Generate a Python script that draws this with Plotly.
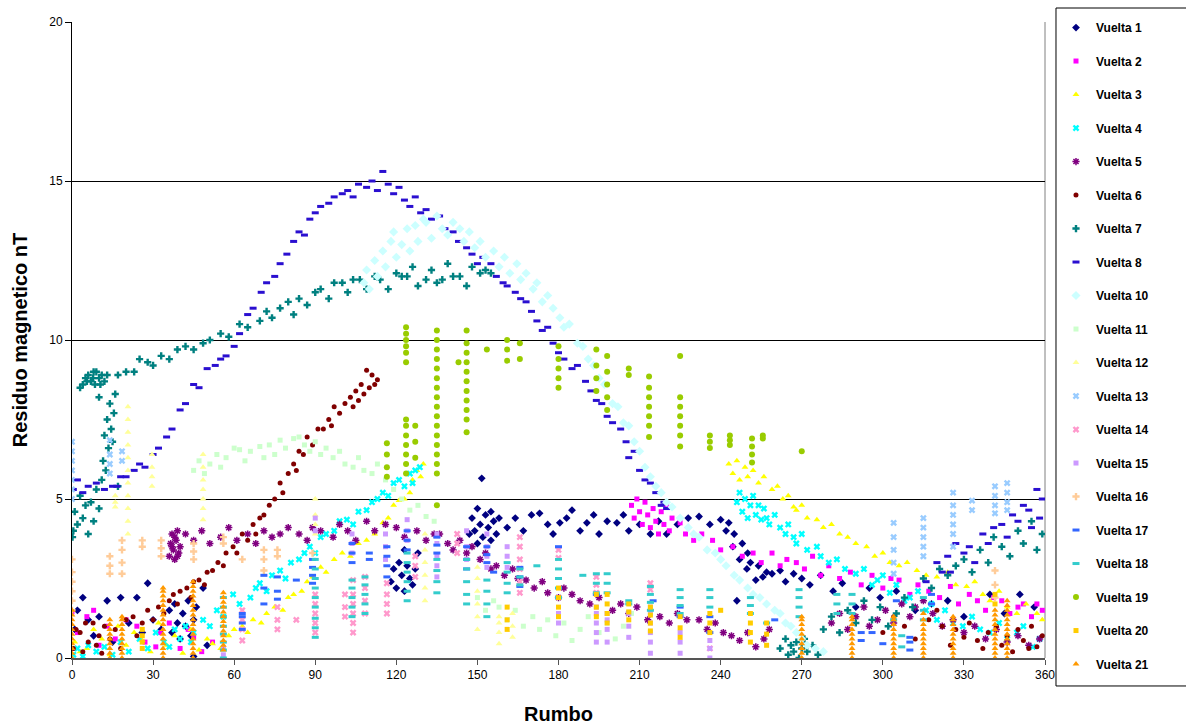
import plotly.graph_objects as go

# ---------------- data ----------------
# Scattered series: (rumbo, residuo) pairs
v1_pts = [(1,0.9),(2,1.5),(4,1.9),(6,1.2),(8,0.7),(10,1.3),(13,1.8),(15,0.5),(18,1.9),(21,1.1),(24,1.9),(26,0.8),(28,2.35),(30,1.2),(33,0.9),(36,1.5),(37,0.8),(38,1.7),(39,1.1),(40,0.6),(41,1.4),(42,1.0),(43,1.8),(44,0.7),(45,1.2),(45,0.05),(46,1.6),(48.5,2.2),(50,0.4),
          (118,2.4),(119,2.8),(120,2.2),(121,3.0),(122,2.6),(123,2.1),(124,2.9),(125,2.5),(126,2.3),(127,2.8),(128,3.3),(123,3.4),
          (147,3.9),(148,4.4),(149,4.0),(150,4.7),(150,3.6),(151,4.2),(151.6,5.65),(152,3.8),(153,4.5),(154,4.1),(155,4.6),(155,3.7),(156,4.3),(157,3.9),(158,4.4),
          (161,4.1),(164,4.4),(167,4.0),(170,4.5),(173,4.55),(176,4.2),(178,3.9),(180.5,4.25),(183,4.4),(185,4.65),(188,4.0),(190.5,4.25),(193,4.5),(195,3.9),(198,4.3),(201.6,4.25),(204,4.5),(206,4.0),(210,4.2),(214,3.9),(217,4.3),(220,3.9),(224,4.2),(228,4.4),(232,4.45),(236,4.2),(240,4.35),(242,4.0),(243,4.25),(244.5,3.5),(245,3.9),(246,1.8),(247,3.1),(248,3.6),(249.7,2.8),(250,3.3),(251,3.0),(253,2.45),(254,2.9),(255.6,2.55),(257,2.7),(259,2.65),(262,2.75),(264,2.4),(267,2.65),(270,2.5),(273,2.3),(277,2.6),(281.6,2.1),(285,2.35),(290,1.6),(295,2.2),(299,1.9),(305,2.1),(312,1.5),(318,1.7),(324,1.8),(330,1.3),(339.6,2.0),(345,1.4),(350.7,2.0),(356,1.6)]

v2_pts = [(0,1.45),(2,0.8),(5.5,1.3),(8,1.5),(10,0.4),(13,1.0),(16,0.6),(20,1.2),(24,1.0),(27,0.5),(31,0.35),(32.6,0.8),(36,1.1),(40,0.3),(43,0.9),(45,0.65),(48,0.2),(52,0.5),
          (207,4.8),(208,4.4),(209,5.0),(210,4.6),(211,4.2),(212,4.9),(213,4.5),(214,4.1),(215,4.7),(216,4.3),(217,3.9),(218,4.6),(219,4.2),(220,4.8),(221,4.0),(222,4.4),(225,4.25),(227,3.9),(230,3.7),(233,3.9),(237,3.7),(240,3.4),(244.5,3.5),(248,3.2),(252,3.3),(255,3.0),(259,3.3),(262,2.9),(264.5,3.1),(268,3.0),(271,2.8),(274,3.2),(277,2.6),(280,2.9),(284,2.5),(288,2.7),(292,2.3),(296,2.6),(300,2.2),(303,2.5),(306,2.45),(310,2.0),(313,2.3),(317,2.1),(321,1.9),(325,2.25),(328,1.7),(332,2.0),(335,1.8),(338,1.5),(341,1.9),(344,1.8),(347,1.4),(350,1.6),(352,1.7),(355,1.3),(357,1.7),(359,1.5)]

v3_pts = [(1,0.5),(3,0.2),(5.5,0.3),(8,0.9),(11,0.6),(14,0.1),(17,1.0),(20,0.4),(23,0.8),(26,0.55),(29,0.2),(32,1.1),(35,0.4),(38,0.7),(41,0.15),(44,0.9),(47,0.25),(50,0.6),(52,0.45),(55,0.3),
          (58,0.7),(60,0.9),(63,1.0),(65,0.8),(67,1.2),(70,1.1),(72,1.4),(75,1.6),(78,1.5),(80,1.9),(82,2.0),(85,2.1),(87,2.4),(89,2.55),(92,2.85),(94,2.7),(97,3.1),(100,3.3),(103,3.2),(106,3.6),(109,3.7),(112,3.9),(115,4.25),(117,4.4),(119,4.8),(121,4.95),(123,5.0),(125,5.2),(126,5.6),(127.6,5.9),(129,5.7),(130,6.1),
          (243,6.1),(244.5,5.8),(246,6.2),(247,5.6),(249,6.0),(250,5.7),(252,5.9),(254,5.5),(256,5.7),(259,5.3),(261,5.4),(263,5.0),(265,5.1),(267,4.75),(268,4.65),(270,4.8),(272,4.4),(275.6,4.35),(278,4.1),(281,4.2),(284,3.9),(287,3.8),(290,3.6),(294,3.5),(297,3.2),(300,3.3),(302.6,3.0),(306,2.9),(309,3.0),(312.6,2.75),(316,2.6),(320,2.55),(324,2.7),(327,2.3),(331,2.25),(334,2.4),(337,2.0),(339.6,1.8),(343,2.1),(346,1.6),(349.6,1.4),(353,1.7),(357,1.4),(359,1.2)]

v4_pts = [(0.5,0.1),(2,0.3),(4,0.05),(6,0.4),(9,0.2),(12,0.35),(15,0.1),(18,0.5),(21,0.2),(25,0.6),(28,0.3),(31,0.8),(34,0.5),(36,0.35),(38,0.9),(40,0.6),(42,1.0),(44,0.5),(45,0.8),
          (48.5,1.2),(51,1.0),(53.6,1.5),(56,1.3),(59.6,2.0),(62,1.7),(66,1.9),(68,2.2),(69.5,2.35),(72,2.1),(74,2.6),(77,2.75),(79,2.5),(81,3.0),(84,3.1),(86,3.3),(88,3.5),(90,3.3),(92,3.8),(94,3.9),(97,4.0),(99,4.3),(101.7,4.35),(104,4.2),(106,4.6),(109,4.65),(111,4.9),(113,5.0),(115,5.2),(117,5.1),(119,5.5),(121,5.6),(123,5.4),(125,5.8),(126,5.5),(127,5.9),(128.7,6.0),
          (246,4.9),(247,5.2),(248,4.6),(249,5.0),(250,4.4),(251,4.8),(252,5.1),(253,4.5),(254,4.8),(255,4.35),(256,4.7),(257,4.4),(258,4.2),(260,4.5),(262,4.1),(264,3.9),(265,4.2),(267,3.8),(268,3.6),(270,3.9),(272,3.4),(275.6,3.5),(277,3.2),(280,3.0),(283,3.1),(286,2.8),(290,2.65),(293,2.8),(296,2.3),(298,2.45),(300,2.6),(302.6,2.05),(305,2.3),(308,1.8),(310,1.9),(313,2.1),(316,1.5),(318,1.7),(320,1.2),(323,1.5),(326,1.1),(329.6,1.0),(333,1.3),(336,0.9),(339.6,0.8),(343,1.1),(346,0.6),(349.6,0.8),(352,1.0),(355.5,0.35),(358,0.6)]

v5_pts = [(36,3.2),(36.5,3.6),(37,3.9),(37.5,3.4),(38,3.1),(38.5,3.7),(39,4.0),(39.5,3.3),(40,3.5),(38,3.8),(37,3.5),(39,3.2),
          (42,3.9),(45,3.7),(48,4.0),(51,3.6),(55,3.8),(58,4.1),(61,3.7),(65,3.9),(68,3.6),(71,4.0),(74,3.8),(77,3.9),(80,4.1),(84,3.9),(87,3.7),(89,4.1),(92,4.0),(96.6,3.8),(99,4.2),(102,4.0),(105,3.7),(109,4.3),(112,4.0),(116,4.2),(120,4.1),(123,3.8),(127.6,4.0),(131,3.7),(134,3.9),(136,3.9),(139,3.6),(141,3.4),(143.5,3.7),(146,3.3),(148,3.5),(151,3.1),(153,3.3),(155,2.8),(157,2.9),(160,2.6),(163,2.8),(165,2.5),(168,2.45),(171,2.2),(174,2.4),(176,2.05),(180,1.9),(182,2.2),(185,2.0),(188,1.8),(191.6,1.7),(195,1.9),(200,1.5),(203,1.7),(206,1.4),(209,1.6),(213,1.2),(217.5,1.3),(221,1.1),(224,1.4),(227.5,1.2),(232,1.2),(235,0.9),(238,1.1),(241,0.8),(244,0.7),(247,0.55),(250,0.8),(253,0.35),(256,0.6),(258,0.9),
          (281,1.1),(284,1.4),(287,0.9),(290,1.3),(293,1.6),(295,1.0),(298,1.2),(301,1.5),(304,1.1),(307,1.7),(310,1.3),(312,1.6),(315,1.8),(318.5,1.4),(322,1.0),(326,1.2),(330,0.8),(334,1.0),(338,0.6),(342,0.9),(346,0.5),(350,0.7),(354,0.4),(358,0.6)]

v6_pts = [(0.5,0.3),(1.5,0.9),(3,0.8),(4,0.2),(5,1.1),(6,0.5),(7.8,1.1),(9,0.4),(10,0.7),(11,0.15),(12,1.0),(14,0.6),(16,0.9),(18,0.3),(20,1.2),(22.6,1.3),(24,0.7),(26,1.1),(28,1.5),(30,1.2),(32,1.6),(34,1.4),(36,1.8),(37.5,2.0),(39,1.7),(40,2.1),(42.5,2.2),(44,1.9),(45,2.4),(47,2.45),(49,2.3),(50,2.7),(52,2.75),(54,3.0),(56,2.9),(57,3.3),(59.6,3.5),(61,3.3),(63,3.9),(65,3.7),(67,4.2),(68,3.9),(69.5,4.4),(71,4.5),(73,4.8),(75,5.0),(77,5.5),(78,5.2),(80,5.8),(82,6.1),(83,5.9),(84,6.5),(85.6,6.4),(87,6.95),(89,6.7),(91,7.2),(93,7.2),(95,7.5),(96,7.3),(97,7.9),(99,7.7),(101,8.0),(103,8.2),(104,7.9),(105,8.4),(106,8.1),(107,8.6),(108,8.3),(109,9.05),(110,8.5),(111,8.9),(112,8.6),(113,8.75),
          (300,0.8),(304,1.3),(308,1.0),(312,0.6),(317,1.2),(320,1.5),(322,1.0),(325,0.4),(327,0.9),(330,0.65),(332,1.1),(335,0.55),(337,0.3),(339,0.8),(342,1.0),(344,0.4),(346,0.7),(348,0.2),(350,0.9),(352,0.55),(354,0.3),(355,1.0),(357,0.35),(359,0.7)]

v7_pts = [(0.2,3.8),(0.5,4.0),(1,4.6),(2,4.2),(3,5.1),(4,4.4),(5,4.8),(6,3.9),(7,4.9),(8,4.3),(9,5.3),(10,4.7),(11,5.6),(11.5,6.2),(12,7.0),(12.5,5.9),(13,7.5),(13.5,6.6),(14,8.0),(14.5,7.2),(15,6.8),(15.5,7.7),(16,8.3),(17,5.4),(10,8.2),
          (4,8.6),(5,8.8),(6,8.9),(7,8.7),(7.8,8.8),(8.5,8.6),(9,9.0),(10,8.8),(11,8.9),(12,8.7),(13,8.9),(3,8.5),(5.5,8.7),(8,9.0),(10.5,8.6),
          (17,8.9),(20,9.0),(23,9.0),(25,9.4),(28,9.3),(30,9.2),(33,9.5),(36,9.4),(39,9.7),(42,9.8),(45,9.7),(48.5,9.9),(51,10.0),(55,10.2),(58,10.1),(62,10.5),(65,10.4),(69.5,10.6),(72,10.9),(74,10.7),(77,11.0),(80,11.2),(82,10.8),(84,11.3),(87,11.1),(90,11.5),(92,11.6),(95,11.3),(97,11.8),(100,11.8),(102,11.5),(104,11.9),(106.5,11.9),(109,11.6),(112,12.0),(114,11.9),(117,11.6),(120,12.1),(122,12.0),(124,12.0),(126,12.3),(128,11.7),(131,11.9),(133,12.2),(135,11.8),(137,11.9),(139,12.4),(141,12.0),(143.5,12.0),(146,11.7),(148,12.3),(151,12.1),(153,12.2),(155,12.1),
          (262,0.3),(264,0.6),(265,0.1),(266,0.4),(267,0.2),(268,0.5),(269,0.0),(270,0.3),(271,0.6),(272,0.2),(274,0.4),(276,0.1),(278,0.9),(281,1.3),(284,0.8),(287,1.5),(290,1.1),(293,1.8),(296,1.2),(299,1.6),(302,1.0),(305,1.4),(308,1.9),(311,1.6),(315,2.5),(318,2.2),(321,2.8),(324,2.6),(327,2.9),(330,3.1),(333,2.7),(336,3.4),(339,3.0),(341,3.8),(344,3.5),(347,3.2),(350,4.0),(352,3.6),(355,4.3),(357,3.4),(359,3.9)]

v8_pts = [(0.5,5.3),(2,5.6),(4,5.2),(6,5.4),(9,5.5),(12,5.3),(15,5.4),(16.6,5.4),(18,5.7),(20,5.7),(23,5.9),(25,6.1),(27,6.0),(30,6.4),(32,6.6),(35,6.95),(37,7.2),(40,7.8),(42,8.0),(45,8.6),(47,8.5),(50,9.1),(53,9.2),(55,9.4),(57,9.5),(60,9.8),(62,10.2),(65,10.8),(67,11.0),(70,11.5),(72,11.8),(75,12.0),(77,12.4),(79.5,12.7),(82,13.1),(84,13.4),(86,13.3),(88,13.8),(90,14.0),(92,14.2),(95,14.3),(97,14.5),(100,14.6),(102,14.7),(104,14.5),(106,14.9),(109,14.8),(111,15.0),(113,14.7),(115,15.3),(117,14.9),(119,14.6),(121,14.8),(123,14.4),(125,14.2),(127,14.5),(129,14.0),(131,14.1),(133,13.8),(136,13.9),(138,13.5),(141,13.4),(143,13.1),(146,12.9),(148,12.7),(150,12.4),(152,12.6),(155,12.4),(157,12.0),(159.5,11.8),(161,11.7),(164,11.5),(166,11.3),(168,11.2),(170,10.9),(172,10.6),(174,10.3),(176,10.4),(178,9.9),(180,9.6),(182,9.4),(185,9.1),(187,9.2),(190,8.7),(192,8.4),(194,8.1),(196,8.0),(198,7.6),(200,7.4),(203,7.2),(205,6.8),(206,6.3),(208,6.5),(210,5.9),(212,5.6),(214,5.5),(216,5.2),(218,4.8),(219,4.9),(220,4.7),
          (316,2.4),(320,3.0),(322,2.7),(324,3.2),(325,2.7),(327,3.6),(330,3.3),(332,3.5),(334,3.0),(337,3.9),(339,3.6),(341,4.1),(344,4.2),(346,3.8),(348,4.5),(350,4.3),(352,4.8),(354,4.65),(355,4.1),(357,5.3),(358,4.4),(359,5.0)]

v10_pts = [(108,11.8),(109,12.2),(110,11.6),(112,12.5),(113,12.0),(115,12.8),(116,12.3),(118,13.1),(119,13.4),(120,12.6),(122,13.0),(124,13.5),(125,12.8),(127,13.6),(128,13.1),(130,13.8),(131,13.7),(133,13.2),(135,13.9),(137,13.5),(139,13.3),(141,13.7),(143.5,13.5),(145,13.1),(147,13.4),(149,12.9),(151,13.1),(153,12.6),(156,12.8),(158,12.3),(160,12.6),(162,12.1),(164.6,12.4),(166,11.9),(168,12.1),(170.6,11.6),(172,11.8),(174,11.2),(176,11.4),(178,11.0),(180.5,10.7),(182,10.4),(184,10.5),(187,9.9),(189,9.8),(191,9.4),(193,9.2),(195,8.8),(197,8.6),(200,8.0),(202,7.9),(204,7.4),(206,7.3),(208,6.8),(210,6.5),(212,6.0),(214,5.7),(216,5.4),(218,5.2),(220,4.9),(222,4.75),(225,4.4),(228,4.1),(230,3.9),(232,3.8),(235,3.4),(238,3.3),(240,3.1),(242,2.9),(245,2.6),(247,2.45),(250,2.2),(252,2.0),(254.5,1.9),(257,1.7),(260,1.5),(262,1.4),(264,1.1),(266,1.0),(268,0.8),(270,0.6),(272,0.4),(275,0.3),(278,0.2)]

v11_pts = [(45,5.9),(47,6.2),(49,5.8),(51,6.1),(53.6,6.4),(55,6.0),(57,6.3),(60,6.6),(62,6.55),(64,6.2),(66,6.5),(69.5,6.65),(71,6.3),(73,6.7),(75,6.4),(77,6.85),(79,6.6),(82,6.9),(84,6.95),(86,6.7),(88,6.5),(90,6.8),(92,6.4),(94,6.6),(96.6,6.3),(99,6.5),(101,6.1),(104,6.0),(106,6.3),(108,5.9),(111,5.8),(113,6.1),(116,5.6),(119,5.3),(122,5.0),(125,4.65),(128,4.8),(131,4.45),(134,4.3),
           (150,1.9),(153,1.5),(156,1.8),(158,1.6),(161,1.2),(164,1.5),(167,1.0),(170.5,1.3),(173,0.9),(176,1.2),(179,0.7),(182,1.1),(185,0.55),(188,0.9),(191,1.3),(195,0.8),(198,1.1),(201,0.6),(204,1.0),(207,1.4)]

# Column-type series: rumbo -> list of residuo values read in that column
v12_cols = [(16,[4.75,4.9,5.1]),(20.7,[3.9,4.3,4.7,5.1,5.5,5.9,6.3,6.7,7.1,7.5,7.9]),(29.6,[5.4,5.7,6.0,6.4]),(48.5,[4.35,4.7,5.0,5.3,5.6,6.0,6.4]),
            (90,[3.9,4.2,4.5,5.0]),(130.6,[1.8,2.2,2.6,3.0,3.4,3.9]),(150,[0.9,1.3,1.7,2.1,2.5,2.85]),(158,[0.45,0.8,1.1,1.3]),(163,[0.65,1.0,1.4])]
v13_cols = [(0,[5.0,5.3,5.6,5.9,6.2,6.5,6.8]),(14,[5.8,6.1,6.4,6.85]),(18.5,[6.2,6.5]),(304,[2.65,3.0,3.4,3.8,4.25]),(315,[3.2,3.5,3.8,4.1,4.4]),
            (326,[3.5,3.9,4.2,4.5,4.8,5.2]),(333,[4.65,4.95]),(341.5,[4.55,4.8,5.1,5.4]),(346,[4.65,4.9,5.2,5.5])]
v14_cols = [(63,[0.55,0.9,1.2,1.5]),(76,[0.9,1.2,1.6]),(83,[1.2]),(90,[0.8,1.1,1.4,1.7,2.0]),(101,[1.3,1.6,2.0]),(104,[0.8,1.1,1.4,1.7,2.0,2.45]),
            (108.4,[1.4,1.8,2.2,2.55]),(116.5,[1.4,1.7,2.0,2.35]),(127,[2.55,2.9,3.2]),(142.5,[3.3,3.6,3.9]),(165.7,[2.05,2.4,2.8,3.1,3.5,3.8]),
            (180,[3.15,3.4]),(194,[2.05,2.3,2.55]),(214,[2.15,2.35]),(236,[0.3])]
v15_cols = [(56,[0.1,0.3]),(90,[4.0,4.4]),(103.6,[3.3,3.6,3.9]),(116,[3.1,3.5,3.9]),(124,[3.7,4.0,4.35]),(135,[2.55,2.9,3.2,3.6,3.9]),(146,[3.1,3.5,4.0]),
            (153.5,[2.85,3.2,3.5,3.9]),(161,[2.85,3.2,3.5]),(180,[1.1,1.4]),(194,[0.5,0.8,1.1,1.4,1.6]),(198,[0.5,0.9,1.2,1.4]),(206,[0.65,1.0,1.4]),
            (214,[0.15,0.5,0.8,1.1,1.4,1.6]),(225,[0.15,0.5,0.8]),(236,[0.0,0.3,0.55])]
v16_cols = [(0,[1.5,1.8,2.1,2.4,2.7,3.1]),(14,[2.65,2.9,3.2]),(18.5,[2.65,3.0,3.4,3.7]),(26,[3.5,3.7]),(33,[3.2,3.45,3.7]),(45,[3.1,3.35,3.6]),
            (56,[3.6,3.8]),(63,[3.1]),(71,[2.75,3.1,3.4]),(76,[3.2,3.4]),(89,[3.3]),(341.5,[1.9,2.3,2.75])]
v17_cols = [(63,[0.9,1.1,1.3,1.4]),(71,[1.7,2.2,2.6]),(76,[1.85,2.1,2.55]),(83,[2.45]),(89,[2.35,2.6,2.85,3.1]),(103.6,[3.0,3.3,3.6]),(110,[3.1,3.3]),
            (116.5,[2.55,2.9,3.2,3.5]),(124,[3.4,3.7,4.0]),(135,[3.3,3.55,3.8]),(146,[2.8,3.1,3.5]),(153.5,[3.0,3.25,3.5]),(156,[2.7]),(165.7,[2.25,2.55,2.85]),
            (180,[3.5]),(194,[2.0]),(215,[1.8]),(225,[1.3,1.6]),(236,[0.8,1.3]),(260,[1.2]),(292,[0.55,0.8]),(296,[0.8]),(300,[0.45]),(305,[1.8]),
            (310,[0.25,0.5,0.65]),(318,[1.7,2.0])]
v18_cols = [(56,[0.0,0.25,0.5,0.75,1.0,1.3,1.6,1.9]),(90,[0.65,0.95,1.25,1.6,1.9,2.2,2.5,2.8,3.1]),(103.6,[1.3,1.6,1.9,2.2,2.45]),(108.4,[1.4,1.7,2.0,2.3,2.55]),
            (124,[1.8,2.1,2.4,2.7,3.0,3.3]),(135,[2.05,2.4,2.75,3.1]),(146,[1.7,2.0,2.4,2.8,3.1]),(153.5,[1.3,1.7,2.1,2.45]),(161,[2.05,2.35,2.7,3.0]),
            (165.7,[2.3,2.55,2.8]),(172,[2.9]),(180,[1.9,2.2,2.5,2.8,3.1]),(189,[2.6]),(194,[2.05,2.35,2.65]),(198,[2.05,2.35,2.65]),(206,[1.7,1.8]),
            (214,[1.5,1.75,2.0,2.25]),(225,[1.4,1.65,1.9,2.15]),(236,[1.6,1.9,2.15]),(251,[1.4,1.65,1.9]),(257,[1.1]),(269,[1.3,1.6,1.9,2.15]),
            (283,[1.4,1.7,2.0]),(288.6,[1.4,1.7,2.0]),(304,[1.2]),(307,[0.35,0.7]),(315,[1.2,1.5,1.9])]
v19_cols = [(116.5,[5.7,6.0,6.4,6.75]),(123.6,[5.8,6.1,6.4,6.7,7.0,7.3,7.5,9.3,9.6,9.8,10.0,10.2,10.4]),(127,[6.3,6.8,7.3]),
            (135,[4.8,5.8,6.1,6.4,6.7,7.0,7.3,7.6,7.9,8.2,8.5,8.8,9.1,9.4,9.7,10.0,10.3]),(143,[9.3]),
            (146,[7.1,7.5,7.8,8.1,8.4,8.7,9.0,9.3,9.6,9.9,10.3]),(153.5,[9.7]),(161,[9.35,9.7,10.0]),(165.7,[9.4,9.9]),
            (180,[8.5,8.8,9.1,9.4,9.8]),(194,[8.4,8.8,9.2,9.7]),(198,[7.8,8.2,8.6,9.0,9.5]),(206,[8.9,9.1]),
            (213.5,[6.95,7.3,7.6,7.9,8.2,8.5,8.85]),(225,[6.65,7.0,7.3,7.6,7.9,8.2,9.5]),(236,[6.6,6.8,7.0]),(243.4,[6.7,6.85,7.0]),
            (251.6,[6.15,6.4,6.65,6.9]),(255.6,[6.9,7.0]),(270,[6.5])]
v20_cols = [(26,[0.3,0.5,0.7,0.9]),(161,[0.9,1.2,1.6]),(180,[1.3,1.6,1.9,2.2]),(194,[1.3,1.6,2.0]),(198,[1.1,1.4,1.7,2.0]),(206,[1.2,1.45,1.7]),
            (214,[0.85,1.1,1.35,1.6]),(225,[0.65,0.95,1.3]),(236,[0.8,1.1,1.4]),(240,[1.5]),(251,[0.5,0.8,1.1,1.4]),(257,[0.4,0.75,1.1]),(341.5,[1.7,2.0])]
v21_cols = [(0,[0.0,0.15,0.3,0.45,0.6,0.75,0.9,1.05,1.2,1.35,1.5]),(14,[0.0,0.15,0.3,0.45,0.6,0.75,0.9,1.05,1.2]),
            (18.5,[0.0,0.15,0.3,0.45,0.6,0.75,0.9,1.05,1.2,1.3]),
            (33.7,[0.0,0.15,0.3,0.45,0.6,0.75,0.9,1.05,1.2,1.35,1.5,1.65,1.8,1.95,2.1,2.2]),
            (44.8,[0.0,0.15,0.3,0.45,0.6,0.75,0.9,1.05,1.2,1.35,1.5,1.65,1.8,1.95,2.1,2.25,2.4]),
            (56,[0.25,0.4,0.55,0.7,0.85,1.0,1.15,1.3,1.45,1.6,1.75,1.9,2.05]),
            (270,[0.0,0.15,0.3,0.45,0.6,0.75,0.9,1.05,1.2,1.3]),(288.6,[0.0,0.15,0.3,0.45,0.6,0.75,0.9,1.05,1.2,1.3]),
            (304,[0.0,0.15,0.3,0.45,0.6,0.75,0.9,1.05,1.2,1.3]),(315,[0.0,0.15,0.3,0.45,0.6,0.75,0.9,1.05,1.2,1.4]),
            (326,[0.0,0.15,0.3,0.45,0.6,0.75,0.9,1.05,1.2,1.3]),(341.5,[0.0,0.15,0.3,0.45,0.6,0.75,0.9,1.05,1.2,1.35,1.5]),
            (346,[0.0,0.15,0.3,0.45,0.6,0.75,0.9,1.05,1.2,1.35,1.5,1.65,1.8])]

series_names = ["Vuelta 1","Vuelta 2","Vuelta 3","Vuelta 4","Vuelta 5","Vuelta 6","Vuelta 7","Vuelta 8","Vuelta 10","Vuelta 11",
                "Vuelta 12","Vuelta 13","Vuelta 14","Vuelta 15","Vuelta 16","Vuelta 17","Vuelta 18","Vuelta 19","Vuelta 20","Vuelta 21"]
x_ticks = [0,30,60,90,120,150,180,210,240,270,300,330,360]
y_ticks = [0,5,10,15,20]

# ---------------- styles ----------------
colors = ["#000080","#FF00FF","#FFFF00","#00FFFF","#800080","#800000","#008080","#2A0FD0","#CCFFFF","#CCFFCC",
          "#FFFF99","#99CCFF","#FF99CC","#CC99FF","#FFCC99","#3366FF","#33CCCC","#99CC00","#FFCC00","#FF9900"]
symbols = ["diamond","square","triangle-up","x","asterisk-open","circle","cross","line-ew-open","diamond","square",
           "triangle-up","x","x","square","cross","line-ew-open","line-ew-open","circle","square","triangle-up"]
sizes = [6,5,6,6,6,5,6,5,7,5,6,6,6,5,6,5,5,6,5,6]

def from_pts(pts):
    return [p[0] for p in pts], [p[1] for p in pts]

def from_cols(cols):
    xs, ys = [], []
    for cx, vals in cols:
        for v in vals:
            xs.append(cx)
            ys.append(v)
    return xs, ys

data = [from_pts(v1_pts), from_pts(v2_pts), from_pts(v3_pts), from_pts(v4_pts), from_pts(v5_pts), from_pts(v6_pts),
        from_pts(v7_pts), from_pts(v8_pts), from_pts(v10_pts), from_pts(v11_pts),
        from_cols(v12_cols), from_cols(v13_cols), from_cols(v14_cols), from_cols(v15_cols), from_cols(v16_cols),
        from_cols(v17_cols), from_cols(v18_cols), from_cols(v19_cols), from_cols(v20_cols), from_cols(v21_cols)]

fig = go.Figure()
for i, (name, (xs, ys)) in enumerate(zip(series_names, data)):
    sym = symbols[i]
    marker = dict(color=colors[i], symbol=sym, size=sizes[i])
    if sym.endswith("-open"):
        marker["line"] = dict(color=colors[i], width=3 if sym.startswith("line") else 1.5)
    else:
        marker["line"] = dict(width=0)
    fig.add_trace(go.Scatter(x=xs, y=ys, mode="markers", name=name, marker=marker,
                             legendgroup=name, cliponaxis=True))

fig.update_layout(
    width=1186, height=726,
    margin=dict(l=72, r=141, t=22, b=68, autoexpand=False),
    paper_bgcolor="white", plot_bgcolor="white",
    font=dict(family="Arial, Liberation Sans, sans-serif", color="black", size=12),
    showlegend=True,
    legend=dict(x=1.0113, xanchor="left", y=1.0141, yanchor="top",
                bordercolor="black", borderwidth=0, bgcolor="rgba(0,0,0,0)",
                font=dict(family="Arial, Liberation Sans, sans-serif", size=12, color="black", weight="bold"),
                tracegroupgap=14.5, maxheight=700),
    xaxis=dict(range=[0, 360], tickvals=x_ticks, ticks="outside", ticklen=5, tickcolor="#555",
               showline=True, linecolor="#555", linewidth=2, showgrid=False, zeroline=False,
               tickfont=dict(size=12),
               title=dict(text="Rumbo", font=dict(size=20, weight="bold"), standoff=26)),
    yaxis=dict(range=[0, 20], tickvals=y_ticks, ticks="outside", ticklen=6, tickcolor="black",
               showline=True, linecolor="black", linewidth=1, showgrid=True, gridcolor="black",
               gridwidth=1, zeroline=False, tickfont=dict(size=12),
               title=dict(text="Residuo magnetico nT", font=dict(size=20, weight="bold"), standoff=16)),
    shapes=[dict(type="line", xref="paper", yref="paper", x0=1, x1=1, y0=0, y1=1,
                 line=dict(color="#808080", width=1), layer="below"),
            # legend frame (extends past the right edge of the page, as in the reference)
            dict(type="rect", xref="paper", yref="paper", x0=1.0113, x1=1.16, y0=-0.044, y1=1.022,
                 line=dict(color="black", width=1), fillcolor="rgba(0,0,0,0)", layer="above")],
)

fig.write_html("out.html")
